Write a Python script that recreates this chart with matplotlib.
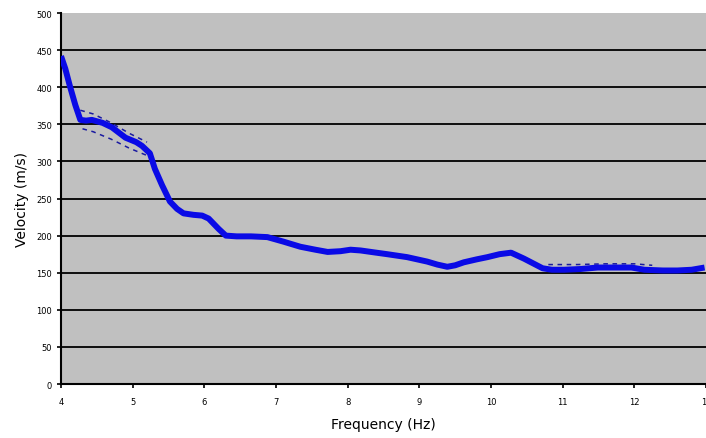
import matplotlib
matplotlib.use("Agg")
import matplotlib.pyplot as plt

# main dispersion curve (frequency Hz, phase velocity m/s)
freq = [4.0, 4.06, 4.12, 4.2, 4.27, 4.35, 4.43, 4.58, 4.71, 4.9, 5.05, 5.13, 5.24,
        5.31, 5.41, 5.52, 5.62, 5.71, 5.85, 5.97, 6.06, 6.2, 6.3, 6.45, 6.65, 6.88,
        7.1, 7.34, 7.55, 7.72, 7.9, 8.04, 8.18, 8.4, 8.55, 8.83, 9.11, 9.25, 9.39,
        9.5, 9.62, 9.8, 9.95, 10.12, 10.28, 10.46, 10.6, 10.72, 10.85, 11.02, 11.25,
        11.49, 11.75, 11.96, 12.14, 12.4, 12.6, 12.8, 12.98]
velocity = [442, 425, 403, 376, 356, 355, 356, 352, 346, 332, 326, 321, 311,
            290, 268, 246, 236, 230, 228, 227, 223, 209, 200, 199, 199, 198,
            192, 185, 181, 178, 179, 181, 180, 177, 175, 171, 165, 161, 158,
            160, 164, 168, 171, 175, 177, 169, 162, 156, 154, 154, 155,
            157, 157, 157, 154, 153, 153, 154, 157]

# upper / lower bounds (dashed)
upper_f1 = [4.27, 4.45, 4.7, 4.95, 5.2]
upper_v1 = [369, 364, 352, 338, 326]
lower_f1 = [4.3, 4.45, 4.7, 4.95, 5.2]
lower_v1 = [344, 340, 330, 318, 308]
upper_f2 = [10.8, 11.2, 11.6, 12.0, 12.25]
upper_v2 = [161, 161, 162, 162, 160]

y_ticks = [0, 50, 100, 150, 200, 250, 300, 350, 400, 450, 500]
x_ticks = [4, 5, 6, 7, 8, 9, 10, 11, 12, 13]

fig = plt.figure(figsize=(7.06, 4.39), dpi=100)
ax = fig.add_axes([0.0864, 0.123, 0.9136, 0.845])
ax.set_facecolor("#C0C0C0")

for v in y_ticks[1:-1]:
    ax.axhline(v, color="black", linewidth=1.3, zorder=1)

line_color = "#0A0AE6"
ax.plot(freq, velocity, color=line_color, linewidth=4.3, solid_joinstyle="round",
        solid_capstyle="butt", zorder=3)
dash_kw = dict(color="#1A1AA0", linewidth=1.1, linestyle=(0, (3, 3)), zorder=2)
ax.plot(upper_f1, upper_v1, **dash_kw)
ax.plot(lower_f1, lower_v1, **dash_kw)
ax.plot(upper_f2, upper_v2, **dash_kw)

ax.set_xlim(4, 13)
ax.set_ylim(0, 500)
ax.set_xticks(x_ticks)
ax.set_yticks(y_ticks)
ax.tick_params(axis="both", labelsize=6, length=3, width=1.2, direction="out")
ax.tick_params(axis="x", pad=6)

for side in ("top", "right"):
    ax.spines[side].set_visible(False)
for side in ("left", "bottom"):
    ax.spines[side].set_linewidth(1.5)

ax.set_xlabel("Frequency (Hz)", fontsize=10, labelpad=8)
ax.set_ylabel("Velocity (m/s)", fontsize=10, labelpad=5)

fig.savefig("out.png", dpi=100)
